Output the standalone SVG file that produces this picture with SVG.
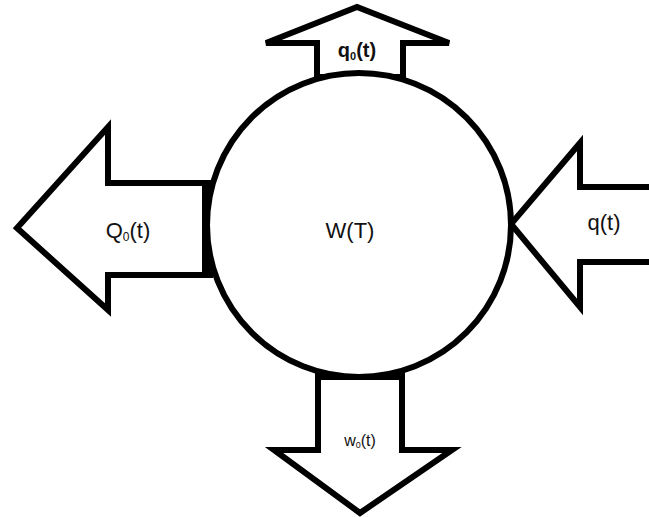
<svg xmlns="http://www.w3.org/2000/svg" width="649" height="517" viewBox="0 0 649 517">
<style>
.arr{fill:#fff;stroke:#000;stroke-width:6;stroke-linejoin:miter}
.bar{stroke:#000;stroke-width:10;fill:none}
.node{fill:#fff;stroke:#000;stroke-width:6}
.lbl{font-family:"Liberation Sans",Arial,sans-serif;fill:#111;text-anchor:middle}
</style>
<rect width="649" height="517" fill="#fff"/>
<g id="connectors">
<polygon id="arrow-top" class="arr" points="317,80 317,43 266,43 357,7 449,43 403,43 403,80"/>
<polygon id="arrow-left" class="arr" points="210,183 108,183 108,127 17,228 108,310 108,275 210,275"/>
<polygon id="arrow-right" class="arr" points="652,187 580,187 580,143 511,224 580,307 580,262 652,262"/>
<polygon id="arrow-bottom" class="arr" points="318,375 318,450 274,450 360,513 452,450 402,450 402,375"/>
<line class="bar" x1="314" y1="79" x2="406" y2="79"/>
<line class="bar" x1="207" y1="180" x2="207" y2="278"/>
<line class="bar" x1="315" y1="375" x2="405" y2="375"/>
</g>
<g id="node-W">
<circle class="node" cx="359" cy="225" r="152"/>
<text class="lbl" x="350" y="238" font-size="22">W(T)</text>
</g>
<g id="label-q0">
<text class="lbl" x="357" y="57" font-size="20" font-weight="bold">q<tspan font-size="11" dy="3">0</tspan><tspan dy="-3">(t)</tspan></text>
</g>
<g id="label-Q0">
<text class="lbl" x="128" y="238" font-size="22">Q<tspan font-size="12" dy="3">0</tspan><tspan dy="-3">(t)</tspan></text>
</g>
<g id="label-q">
<text class="lbl" x="604" y="230" font-size="22">q(t)</text>
</g>
<g id="label-w0">
<text class="lbl" x="360" y="446" font-size="16">w<tspan font-size="9" dy="2">0</tspan><tspan dy="-2">(t)</tspan></text>
</g>
</svg>
